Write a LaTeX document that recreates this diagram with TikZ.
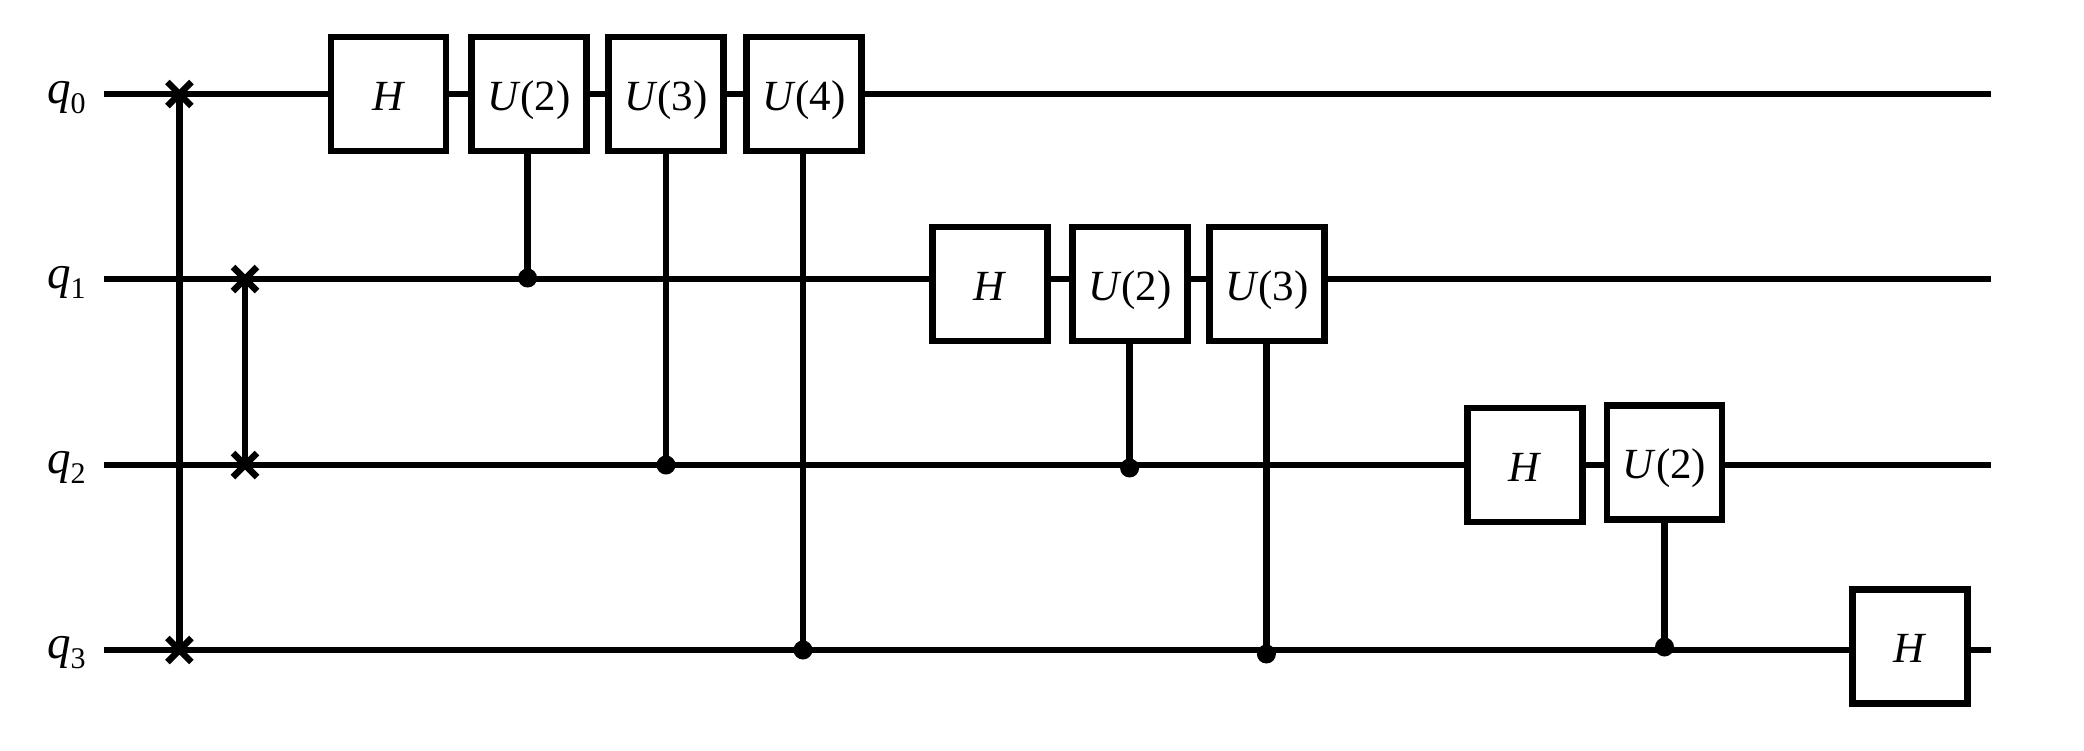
\documentclass[tikz,border=0pt]{standalone}
\usepackage{fontspec}
\setmainfont{Liberation Serif}
\usetikzlibrary{shapes.misc}
\newcommand{\qlab}[1]{\textit{q}\raisebox{-10pt}{\fontsize{30}{30}\selectfont #1}}
\newcommand{\ugate}[1]{\textit{U}(#1)}
\tikzset{
  wire/.style={line width=6.5pt,line cap=butt,black},
  gate/.style={draw=black,fill=white,line width=6.5pt,rectangle,inner sep=0pt,outer sep=0pt,
    minimum width=115pt,minimum height=114pt,text height=36pt,text depth=4pt,
    font=\fontsize{43}{43}\selectfont},
  ctrl/.style={circle,fill=black,draw=none,inner sep=0pt,outer sep=0pt,minimum size=19pt},
  swapmark/.style={cross out,draw=black,line width=6.5pt,inner sep=0pt,outer sep=0pt,minimum size=24pt},
  qlabel/.style={anchor=base west,inner sep=0pt,outer sep=0pt,font=\fontsize{47}{47}\selectfont}
}
\begin{document}
\begin{tikzpicture}[x=1pt,y=-1pt]
\useasboundingbox (0,0) rectangle (2084,750);
% labels
\node[qlabel] (l0) at (47,103) {\qlab{0}};
\node[qlabel] (l1) at (47,288) {\qlab{1}};
\node[qlabel] (l2) at (47,473) {\qlab{2}};
\node[qlabel] (l3) at (47,658.5) {\qlab{3}};
% wire ends
\coordinate (a0) at (104,94);  \coordinate (b0) at (1991,94);
\coordinate (a1) at (104,279); \coordinate (b1) at (1991,279);
\coordinate (a2) at (104,465); \coordinate (b2) at (1991,465);
\coordinate (a3) at (104,650); \coordinate (b3) at (1991,650);
\foreach \i in {0,1,2,3} \draw[wire] (a\i) -- (b\i);
% control dots
\node[ctrl] (c1) at (527.6,278) {};
\node[ctrl] (c2) at (666,465) {};
\node[ctrl] (c3) at (803,650) {};
\node[ctrl] (c4) at (1129.6,468) {};
\node[ctrl] (c5) at (1266.4,654) {};
\node[ctrl] (c6) at (1664.5,647) {};
% swaps
\node[swapmark] (s0) at (179.4,94) {};
\node[swapmark] (s3) at (179.4,650) {};
\node[swapmark] (s1) at (245,279) {};
\node[swapmark] (s2) at (245,465) {};
\draw[wire] (s0.center) -- (s3.center);
\draw[wire] (s1.center) -- (s2.center);
% gates
\node[gate] (h0) at (388.7,94) {\textit{H}};
\node[gate] (u02) at (529,94) {\ugate{2}};
\node[gate] (u03) at (666,94) {\ugate{3}};
\node[gate] (u04) at (804,94) {\ugate{4}};
\node[gate] (h1) at (990,284) {\textit{H}};
\node[gate] (u12) at (1130,284) {\ugate{2}};
\node[gate] (u13) at (1267,284) {\ugate{3}};
\node[gate] (h2) at (1525,465) {\textit{H}};
\node[gate] (u22) at (1664.5,462.5) {\ugate{2}};
\node[gate] (h3) at (1910,646.5) {\textit{H}};
% control lines
\draw[wire] (c1.center) -- (c1.center |- u02.south);
\draw[wire] (c2.center) -- (c2.center |- u03.south);
\draw[wire] (c3.center) -- (c3.center |- u04.south);
\draw[wire] (c4.center) -- (c4.center |- u12.south);
\draw[wire] (c5.center) -- (c5.center |- u13.south);
\draw[wire] (c6.center) -- (c6.center |- u22.south);
\end{tikzpicture}
\end{document}
